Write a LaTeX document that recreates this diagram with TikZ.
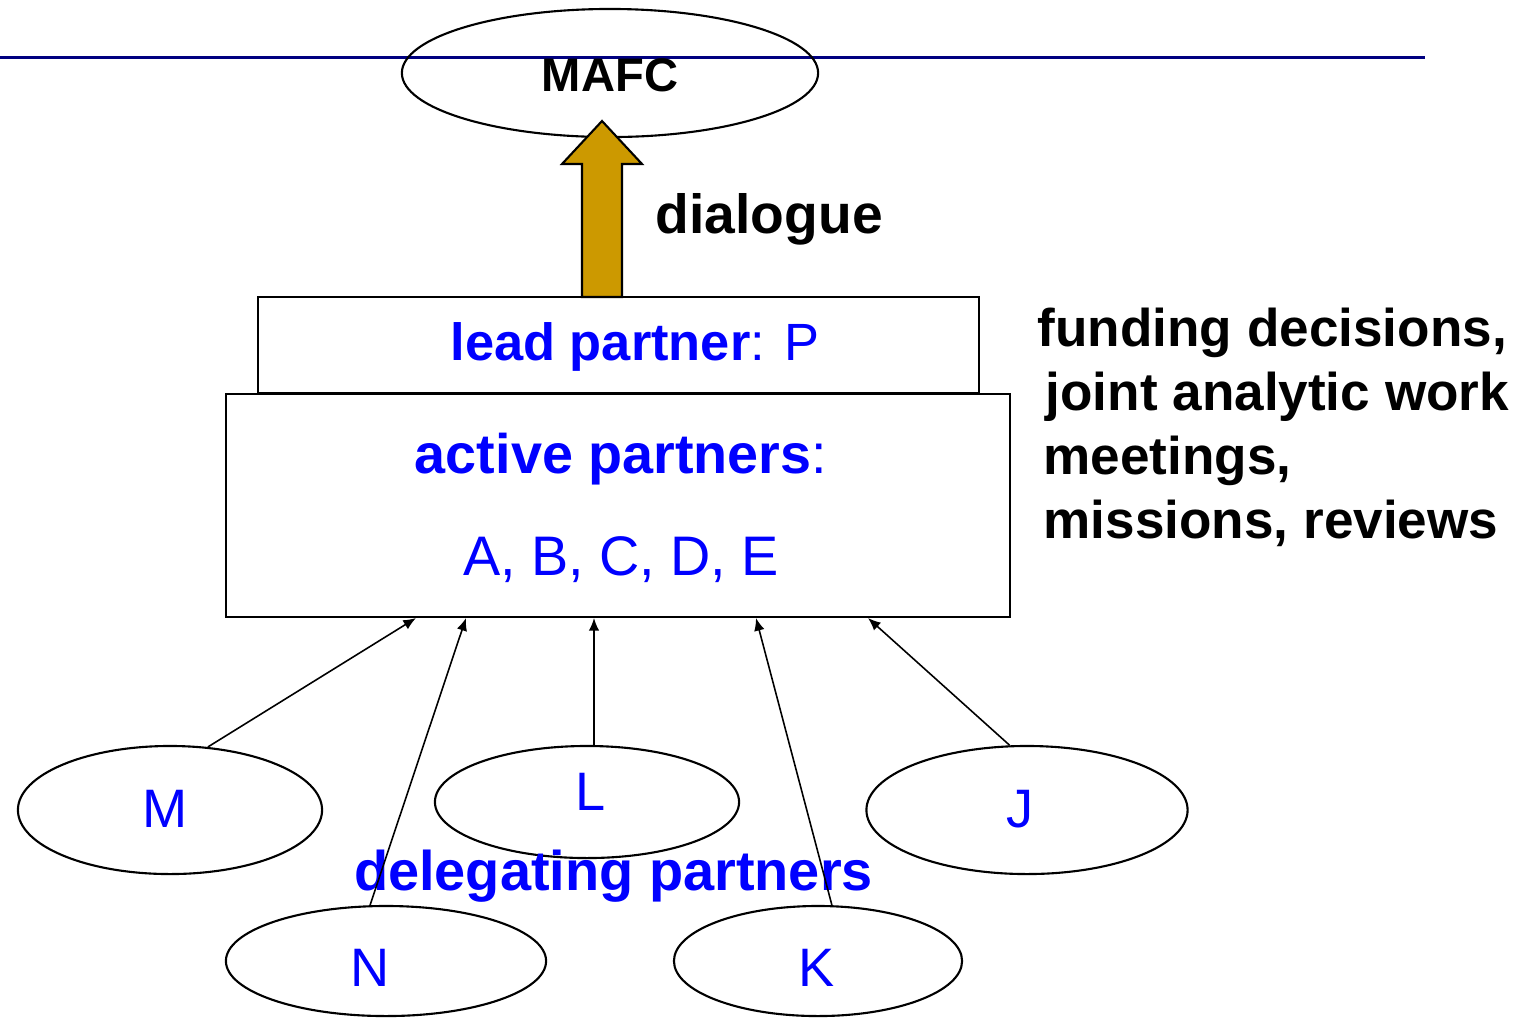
\documentclass[tikz,border=0pt]{standalone}
\usepackage{fontspec}
\setmainfont{Liberation Sans}
\usetikzlibrary{arrows.meta,calc,shapes.geometric}
\definecolor{navy}{HTML}{000080}
\definecolor{gold}{HTML}{CC9900}
\definecolor{pblue}{HTML}{0000FF}
\tikzset{
  ell/.style={draw, ellipse, line width=0.6pt, inner sep=0pt},
  box/.style={draw, rectangle, line width=0.6pt, inner sep=0pt, fill=white},
  conn/.style={line width=0.45pt, -{Latex[length=3.6pt,width=3pt]}},
  lbl/.style={inner sep=0pt, anchor=base, text=pblue, font=\fontsize{15.4}{18}\selectfont},
  bigl/.style={lbl, font=\fontsize{15.85}{18}\selectfont},
  rtext/.style={inner sep=0pt, anchor=base west, font=\fontsize{15.1}{18}\selectfont\bfseries}
}
\begin{document}
\begin{tikzpicture}[x=0.01cm,y=-0.01cm]
\useasboundingbox (0,0) rectangle (1528,1017);
% top rule
\draw[navy, line width=0.85pt] (0,57) -- (1425,57);
% MAFC
\node[ell, minimum width=4.16cm, minimum height=1.28cm] (mafc) at (610,73) {};
\node[inner sep=0pt, anchor=base, font=\fontsize{13.4}{16}\selectfont\bfseries] (mafct) at (610,91) {MAFC};
% boxes
\node[box, minimum width=7.21cm, minimum height=0.96cm] (lead) at (618.5,345) {};
\node[box, minimum width=7.84cm, minimum height=2.23cm] (act) at (618,505.5) {};
% golden arrow
\draw[fill=gold, line width=0.6pt, line join=miter] (582,297) -- (582,164) -- (562,164) -- (602,121) -- (642,164) -- (622,164) -- (622,297) -- cycle;
\node[inner sep=0pt, anchor=base west, font=\fontsize{15.7}{18}\selectfont\bfseries] (dlg) at (655,233) {dialogue};
% box texts
\node[lbl, font=\fontsize{14.9}{18}\selectfont] (leadt) at (635,360) {\textbf{lead partner}: P};
\node[bigl] (actt) at (621,473) {\textbf{active partners}:};
\node[bigl] (actl) at (621,575) {A, B, C, D, E};
% right text
\node[rtext] (r1) at (1037,346) {funding decisions,};
\node[rtext] (r2) at (1045,410) {joint analytic work};
\node[rtext] (r3) at (1043,474) {meetings,};
\node[rtext] (r4) at (1043,538) {missions, reviews};
% delegating ellipses
\node[ell, minimum width=3.04cm, minimum height=1.28cm] (eM) at (170,810) {};
\node[ell, minimum width=3.04cm, minimum height=1.12cm] (eL) at (587,802) {};
\node[ell, minimum width=3.21cm, minimum height=1.28cm] (eJ) at (1027,810) {};
\node[ell, minimum width=3.20cm, minimum height=1.10cm] (eN) at (386,961) {};
\node[ell, minimum width=2.88cm, minimum height=1.10cm] (eK) at (818,961) {};
\node[lbl] (tM) at (165,827) {M};
\node[lbl] (tL) at (591,810) {L};
\node[lbl] (tJ) at (1020,827) {J};
\node[lbl] (tN) at (370,986) {N};
\node[lbl] (tK) at (817,986) {K};
\node[lbl, font=\fontsize{15.9}{18}\selectfont\bfseries] (dp) at (613.5,890) {delegating partners};
% connectors
\coordinate (aM) at (416,618);
\coordinate (aN) at (466,618);
\coordinate (aL) at (594,618);
\coordinate (aK) at (756,618);
\coordinate (aJ) at (868,618);
\draw[conn] (eM.59) -- (aM);
\draw[conn] (eN.106) -- (aN);
\draw[conn] (eL.83) -- (aL);
\draw[conn] (eK.76) -- (aK);
\draw[conn] (eJ.105) -- (aJ);
\end{tikzpicture}
\end{document}
